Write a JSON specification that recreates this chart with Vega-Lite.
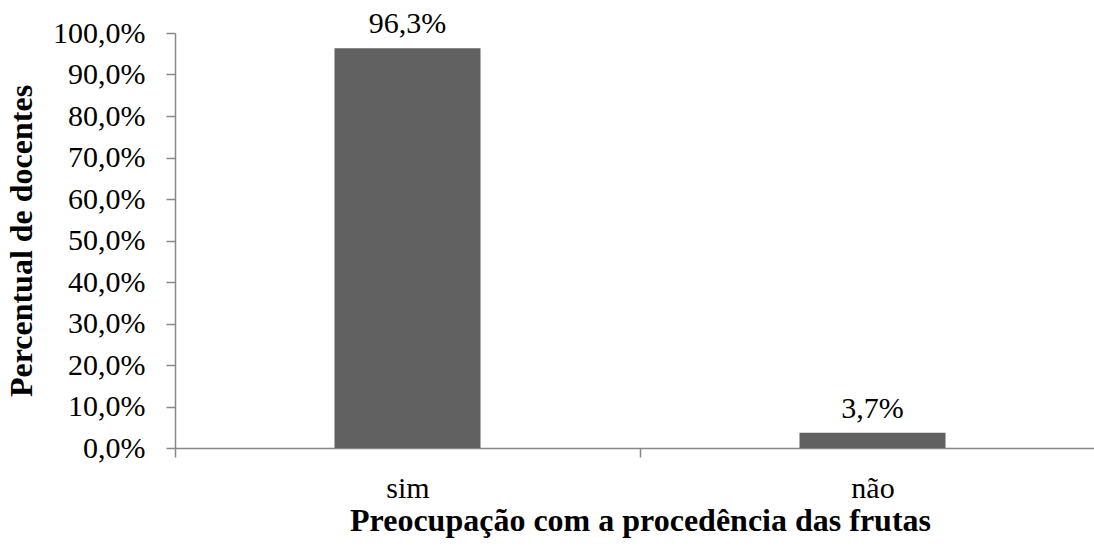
{
  "$schema": "https://vega.github.io/schema/vega-lite/v6.json",
  "autosize": {"type": "none"},
  "padding": {"left": 175, "top": 33, "right": 0, "bottom": 101},
  "width": 919,
  "height": 415,
  "background": "white",
  "config": {
    "locale": {"number": {"decimal": ",", "thousands": ".", "grouping": [3], "currency": ["R$", ""]}},
    "view": {"stroke": null},
    "font": "Liberation Serif",
    "axis": {
      "domainColor": "#888888",
      "domainWidth": 1.5,
      "tickColor": "#888888",
      "tickWidth": 1.5,
      "tickSize": 9,
      "grid": false,
      "labelFont": "Liberation Serif",
      "labelFontSize": 30,
      "labelColor": "#000000",
      "titleFont": "Liberation Serif",
      "titleFontSize": 32,
      "titleFontWeight": "bold",
      "titleColor": "#000000"
    }
  },
  "data": {
    "values": [
      {"resposta": "sim", "percentual": 0.963},
      {"resposta": "não", "percentual": 0.037}
    ]
  },
  "encoding": {
    "x": {
      "field": "resposta",
      "type": "nominal",
      "sort": null,
      "scale": {"range": [0, 930], "paddingInner": 0, "paddingOuter": 0},
      "axis": {
        "title": "Preocupação com a procedência das frutas",
        "labelAngle": 0,
        "tickBand": "extent",
        "labelBaseline": "alphabetic",
        "labelPadding": 40,
        "titleBaseline": "alphabetic",
        "titlePadding": 27
      }
    },
    "y": {
      "field": "percentual",
      "type": "quantitative",
      "scale": {"domain": [0, 1], "nice": false, "zero": true},
      "axis": {
        "title": "Percentual de docentes",
        "values": [0, 0.1, 0.2, 0.3, 0.4, 0.5, 0.6, 0.7, 0.8, 0.9, 1],
        "format": ".1%",
        "labelPadding": 21,
        "titlePadding": 14
      }
    }
  },
  "layer": [
    {"mark": {"type": "bar", "color": "#616161", "width": {"band": 0.314}}},
    {
      "mark": {"type": "text", "font": "Liberation Serif", "fontSize": 30, "color": "#000000", "baseline": "alphabetic", "dy": -15},
      "encoding": {"text": {"field": "percentual", "type": "quantitative", "format": ".1%"}}
    }
  ]
}
